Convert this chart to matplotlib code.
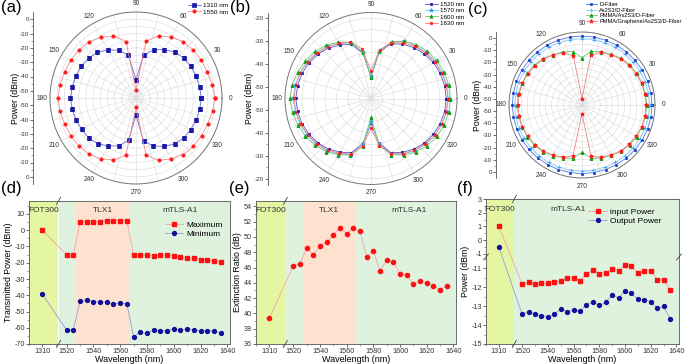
import numpy as np
import matplotlib
matplotlib.use('Agg')
import matplotlib.pyplot as plt
from matplotlib.ticker import FixedLocator, MultipleLocator, NullFormatter

plt.rcParams['font.family'] = ['Liberation Sans', 'DejaVu Sans']
plt.rcParams['axes.unicode_minus'] = False

# ---------------- data ----------------
angles = np.arange(0, 360, 10)

# (a) polar, Power (dBm)
a_1310 = [-9.5, -9.9, -10.4, -11.0, -11.6, -13.0, -16.0, -19.3, -24.6, -42.4,
          -24.8, -19.5, -16.2, -13.2, -11.8, -11.0, -10.4, -9.8, -9.3,
          -9.8, -10.5, -11.2, -11.8, -13.3, -16.3, -19.5, -25.0, -43.0,
          -24.5, -19.4, -16.0, -13.1, -11.6, -11.0, -10.3, -9.8]
a_1550 = [0.0, -1.0, -2.0, -2.3, -3.0, -3.6, -6.0, -8.8, -14.8, -49.5,
          -15.0, -9.0, -6.2, -3.8, -3.0, -2.4, -2.0, -1.2, -0.5,
          -1.1, -2.0, -2.5, -3.0, -3.8, -6.0, -9.0, -14.5, -48.5,
          -14.5, -8.7, -6.0, -3.5, -2.8, -2.2, -1.8, -0.8]

# (b) polar
b_1520 = [-22.2, -22.4, -22.9, -23.6, -24.6, -26.0, -27.6, -29.6, -34.5, -45.5,
          -35.0, -29.8, -28.0, -26.3, -24.8, -23.8, -23.0, -22.5, -22.2,
          -22.5, -23.0, -23.8, -24.8, -26.2, -28.0, -29.8, -35.2, -44.2,
          -35.5, -29.9, -27.9, -26.1, -24.7, -23.7, -22.9, -22.4]
b_1570 = [-21.2, -21.4, -21.9, -22.6, -23.6, -25.0, -26.0, -28.8, -34.2, -45.0,
          -34.6, -29.2, -27.2, -25.4, -23.9, -22.8, -22.0, -21.5, -21.0,
          -21.5, -22.1, -22.9, -23.9, -25.3, -27.0, -29.0, -34.8, -45.2,
          -35.0, -29.2, -27.0, -25.2, -23.8, -22.8, -22.0, -21.5]
b_1600 = [-20.4, -20.6, -21.1, -21.8, -22.9, -24.3, -26.2, -28.6, -34.0, -45.8,
          -34.4, -28.9, -26.6, -24.7, -23.1, -22.0, -21.0, -20.2, -19.6,
          -20.3, -21.1, -22.0, -23.2, -24.8, -26.6, -28.8, -33.8, -47.0,
          -34.2, -28.9, -26.5, -24.5, -23.0, -21.9, -21.0, -20.6]
b_1630 = [-21.5, -21.7, -22.2, -22.9, -23.9, -25.3, -27.0, -29.1, -33.5, -42.9,
          -33.0, -28.8, -27.2, -25.6, -24.2, -23.1, -22.2, -21.7, -21.4,
          -21.8, -22.4, -23.2, -24.3, -25.7, -27.4, -29.3, -33.8, -42.0,
          -34.0, -29.4, -27.3, -25.5, -24.1, -23.0, -22.2, -21.7]

# (c) polar
c_dfiber = [2.6, 2.5, 2.3, 2.2, 2.0, 1.9, 1.8, 1.7, 1.7, 1.7,
            1.7, 1.8, 1.9, 2.0, 2.1, 2.2, 2.3, 2.3, 2.3,
            2.2, 2.1, 2.0, 1.9, 1.7, 1.6, 1.5, 1.4, 1.4,
            1.4, 1.5, 1.6, 1.8, 2.0, 2.2, 2.4, 2.5]
c_as2s3 = [0.6, 0.5, 0.3, 0.1, -0.1, -0.3, -0.4, -0.5, -0.5, -0.5,
           -0.5, -0.4, -0.3, -0.1, 0.0, 0.2, 0.3, 0.4, 0.4,
           0.3, 0.1, 0.0, -0.2, -0.4, -0.5, -0.6, -0.7, -0.7,
           -0.7, -0.6, -0.5, -0.3, -0.1, 0.1, 0.3, 0.5]
c_pmma = [-1.8, -2.0, -2.4, -3.0, -3.8, -5.0, -7.0, -8.3, -10.2, -16.0,
          -10.4, -8.5, -7.2, -5.2, -4.0, -3.0, -2.4, -2.0, -1.8,
          -2.0, -2.4, -3.0, -3.8, -5.0, -7.0, -8.6, -10.5, -16.0,
          -10.5, -8.5, -7.2, -5.2, -4.0, -3.0, -2.4, -2.0]
c_graph = [-2.3, -2.5, -2.9, -3.5, -4.3, -5.5, -7.5, -9.0, -13.5, -50.0,
           -14.0, -9.2, -7.7, -5.7, -4.5, -3.5, -2.9, -2.5, -2.3,
           -2.5, -2.9, -3.5, -4.3, -5.5, -7.5, -9.3, -12.5, -48.0,
           -12.2, -9.2, -7.7, -5.7, -4.5, -3.5, -2.9, -2.5]

# (d)-(f) versus wavelength
wl = [1310] + list(range(1520, 1640, 5))
p_max = [0.0, -15.2, -15.2, 5.0, 5.0, 5.0, 5.3, 5.9, 5.8, 5.9, 5.9,
         -15.2, -15.2, -15.4, -15.7, -15.2, -15.3, -15.6, -16.5, -17.0,
         -17.2, -18.0, -18.0, -19.0, -19.5]
p_min = [-39.4, -61.5, -61.5, -43.7, -42.9, -43.9, -44.2, -44.3, -45.6, -44.7,
         -45.3, -65.7, -62.6, -63.5, -61.2, -62.1, -61.8, -60.7, -61.5, -60.6,
         -61.2, -62.0, -61.8, -62.0, -63.2]
ext_ratio = [39.35, 46.26, 46.5, 48.56, 47.7, 48.8, 49.3, 50.3, 51.2, 50.4,
             51.2, 50.75, 47.4, 48.2, 45.5, 47.0, 46.7, 45.2, 45.0, 43.8,
             44.2, 44.0, 43.6, 43.1, 43.65]
p_in = [1.0, -11.84, -11.72, -11.85, -11.79, -11.8, -11.72, -11.68, -11.51,
        -11.51, -11.67, -11.32, -11.12, -11.29, -11.24, -11.03, -11.15, -10.85,
        -10.91, -11.26, -11.14, -11.14, -11.63, -11.63, -12.16]
p_out = [-0.5, -13.43, -13.29, -13.43, -13.51, -13.6, -13.43, -13.17, -13.29,
         -13.22, -13.26, -12.95, -12.78, -12.97, -12.81, -12.4, -12.6, -12.2,
         -12.33, -12.64, -12.66, -12.78, -13.12, -13.02, -13.67]

# source bands (nm)
fot300 = (1300, 1322)
pre_tlx = (1514, 1527)
tlx1 = (1527, 1567)
mtls = (1567, 1642)

# ---------------- helpers ----------------
W, H = 685, 364
fig = plt.figure(figsize=(W / 100, H / 100), dpi=100)


def rect(x0, y0, x1, y1):
    return [x0 / W, 1 - y1 / H, (x1 - x0) / W, (y1 - y0) / H]


def piecewise(xp, fp):
    xp = np.asarray(xp, float)
    fp = np.asarray(fp, float)

    def make(a, b):
        def f(v):
            v = np.asarray(v, float)
            out = np.interp(v, a, b)
            lo = b[0] + (v - a[0]) * (b[1] - b[0]) / (a[1] - a[0])
            hi = b[-1] + (v - a[-1]) * (b[-1] - b[-2]) / (a[-1] - a[-2])
            return np.where(v < a[0], lo, np.where(v > a[-1], hi, out))
        return f
    return make(xp, fp), make(fp, xp)


xfwd, xinv = piecewise([1300, 1322, 1514, 1642], [0, 22, 22.05, 150])
yfwd, yinv = piecewise([-15, -10.42, -1.22, 3], [0, 87, 87.05, 145])

GRID = '#d9d9d9'
SPINE = '#555555'


def polar_panel(r, rlo, rhi):
    ax = fig.add_axes(r, projection='polar')
    ax.set_ylim(rlo, rhi)
    ax.set_xticks(np.deg2rad(np.arange(0, 360, 30)))
    ax.set_xticklabels([str(d) for d in range(0, 360, 30)])
    ax.xaxis.set_minor_locator(FixedLocator(np.deg2rad(np.arange(15, 360, 30))))
    ax.yaxis.set_major_locator(MultipleLocator(10))
    ax.yaxis.set_minor_locator(MultipleLocator(5))
    ax.yaxis.set_major_formatter(NullFormatter())
    ax.grid(True, which='both', color=GRID, lw=0.4)
    ax.tick_params(axis='x', which='both', labelsize=4.8, pad=-1, length=0, colors='#333333')
    ax.tick_params(axis='y', which='both', length=0)
    ax.spines['polar'].set_color('#777777')
    ax.spines['polar'].set_linewidth(0.7)
    return ax


def radial_scale(pax, x_px, rlo, rhi, ticks, label, label_x):
    b = pax.get_position()
    ax = fig.add_axes([x_px / W, b.y0, 0.0001, b.height])
    span = rhi - rlo
    ax.set_ylim(-span, span)
    pos = [t - rlo for t in ticks] + [-(t - rlo) for t in ticks]
    ax.set_yticks(pos)
    ax.set_yticklabels(['%g' % t for t in ticks] * 2)
    minor = np.arange(rlo + 5, rhi, 5)
    minor = [m for m in minor if m not in ticks]
    ax.yaxis.set_minor_locator(FixedLocator([m - rlo for m in minor] + [-(m - rlo) for m in minor]))
    ax.set_xticks([])
    for s in ['top', 'right', 'bottom']:
        ax.spines[s].set_visible(False)
    ax.spines['left'].set_color(SPINE)
    ax.spines['left'].set_linewidth(0.6)
    ax.tick_params(axis='y', which='major', labelsize=4.5, length=2, width=0.5, pad=1, colors='#333333')
    ax.tick_params(axis='y', which='minor', length=1.2, width=0.4, colors=SPINE)
    ax.patch.set_alpha(0)
    fig.text(label_x / W, b.y0 + b.height / 2, label, rotation=90, ha='center', va='center', fontsize=6.3)


def closed(vals):
    th = np.deg2rad(np.append(angles, angles[0]))
    return th, np.append(vals, vals[0])


def polar_series(ax, vals, line_c, mark_c, marker, ms, label):
    th, r = closed(vals)
    return ax.plot(th, r, color=line_c, lw=0.6, marker=marker, ms=ms, mfc=mark_c, mec=mark_c,
                   mew=0.5, label=label, zorder=3)[0]


leg_kw = dict(loc='upper left', frameon=False, labelspacing=0.12, handletextpad=0.4,
              borderpad=0, borderaxespad=0)

# ---------------- (a) ----------------
axa = polar_panel(rect(50, 12, 222, 184), -55, 5)
ha = [polar_series(axa, a_1310, '#6a6ad6', '#1a1aa8', 's', 2.2, '1310 nm'),
      polar_series(axa, a_1550, '#f28a8a', '#ff1a1a', 'o', 2.4, '1550 nm')]
radial_scale(axa, 33, -55, 5, [0, -10, -20, -30, -40, -50], 'Power (dBm)', 15)
fig.legend(handles=ha, bbox_to_anchor=(188 / W, 1 - 3 / H), fontsize=4.6, handlelength=2.0, **leg_kw)

# ---------------- (b) ----------------
axb = polar_panel(rect(285, 12.5, 457, 184.5), -55, -17.5)
hb = [polar_series(axb, b_1520, '#5555c8', '#1a1aa0', 's', 2.0, '1520 nm'),
      polar_series(axb, b_1570, '#7cc4f8', '#2f9ef0', '*', 3.0, '1570 nm'),
      polar_series(axb, b_1600, '#6cc86c', '#18a018', '^', 2.4, '1600 nm'),
      polar_series(axb, b_1630, '#f08080', '#ff1a1a', 'o', 1.8, '1630 nm')]
radial_scale(axb, 268, -55, -17.5, [-20, -30, -40, -50], 'Power (dBm)', 250)
fig.legend(handles=hb, bbox_to_anchor=(425 / W, 1 - 2 / H), fontsize=4.5, handlelength=2.0, **leg_kw)

# ---------------- (c) ----------------
axc = polar_panel(rect(509, 32, 655, 178), -55, 5)
hc = [polar_series(axc, c_dfiber, '#4a78ee', '#1f3fc4', 's', 2.0, 'D-Fiber'),
      polar_series(axc, c_as2s3, '#8fd0ff', '#3aa8ff', '+', 2.5, 'As2S3/D-Fiber'),
      polar_series(axc, c_pmma, '#6cc86c', '#18a018', '^', 2.4, 'PMMA/As2S3/D-Fiber'),
      polar_series(axc, c_graph, '#f08080', '#ff1a1a', '*', 3.0, 'PMMA/Graphene/As2S3/D-Fiber')]
radial_scale(axc, 496, -55, 5, [0, -10, -20, -30, -40, -50], 'Power (dBm)', 478)
fig.legend(handles=hc, bbox_to_anchor=(586 / W, 1 - 2 / H), fontsize=4.1, handlelength=1.9, **leg_kw)


# ---------------- bottom row ----------------
def wl_axes(r, bands):
    ax = fig.add_axes(r)
    ax.set_xscale('function', functions=(xfwd, xinv))
    ax.set_xlim(1300, 1642)
    ax.xaxis.set_major_locator(FixedLocator([1310, 1520, 1540, 1560, 1580, 1600, 1620, 1640]))
    ax.xaxis.set_minor_locator(FixedLocator([1300, 1320, 1530, 1550, 1570, 1590, 1610, 1630]))
    ax.xaxis.set_major_formatter(plt.FormatStrFormatter('%d'))
    ax.xaxis.set_minor_formatter(NullFormatter())
    for (lo, hi), col in bands:
        ax.axvspan(lo, hi, color=col, lw=0, zorder=0)
    for s in ax.spines.values():
        s.set_color(SPINE)
        s.set_linewidth(0.6)
    ax.tick_params(which='major', labelsize=5.2, length=2, width=0.5, pad=1, colors='#333333')
    ax.tick_params(which='minor', length=1.2, width=0.4, colors=SPINE)
    ax.set_xlabel('Wavelength (nm)', fontsize=6.5, labelpad=0)
    # break marks on the x axis
    bx = (xfwd(1418.0) - xfwd(1300.0)) / (xfwd(1642.0) - xfwd(1300.0))
    for yy in (0, 1):
        ax.plot([bx - 0.01, bx + 0.01], [yy - 0.025, yy + 0.025], transform=ax.transAxes,
                color='#444444', lw=0.6, clip_on=False, zorder=5)
    return ax


YELLOW = '#e4f6a2'
GREEN = '#def2de'
SALMON = '#fde2d0'
RED_L = '#f4a4a4'
BLUE_L = '#9a9ad8'
RED = '#ff1010'
BLUE = '#10109a'
std_bands = [(fot300, YELLOW), (pre_tlx, GREEN), (tlx1, SALMON), (mtls, GREEN)]


def band_labels(ax, mtls_x, with_tlx, y=0.955):
    tr = ax.get_xaxis_transform()
    kw = dict(transform=tr, ha='center', va='top', fontsize=6, color='#333333')
    ax.text(1311, y, 'FOT300', **kw)
    if with_tlx:
        ax.text(1547, y, 'TLX1', **kw)
    ax.text(mtls_x, y, 'mTLS-A1', **kw)


# (d)
axd = wl_axes(rect(29, 201, 230, 344), std_bands)
axd.plot(wl, p_max, color=RED_L, lw=0.6, marker='s', ms=2.8, mfc=RED, mec=RED, label='Maximum')
axd.plot(wl, p_min, color=BLUE_L, lw=0.6, marker='o', ms=2.8, mfc=BLUE, mec=BLUE, label='Minimum')
axd.set_ylim(-70, 18)
axd.yaxis.set_major_locator(MultipleLocator(10))
axd.yaxis.set_minor_locator(MultipleLocator(5))
axd.set_ylabel('Transmitted Power (dBm)', fontsize=6.3, labelpad=1)
band_labels(axd, 1605, True)
axd.legend(loc='upper right', bbox_to_anchor=(0.995, 0.9), fontsize=6, frameon=False,
           handlelength=2.2, labelspacing=0.15, handletextpad=0.4, borderpad=0.2)

# (e)
axe = wl_axes(rect(256, 201, 456, 344), std_bands)
axe.plot(wl, ext_ratio, color=RED_L, lw=0.6, marker='o', ms=3.0, mfc=RED, mec=RED)
axe.set_ylim(36, 54.7)
axe.yaxis.set_major_locator(MultipleLocator(2))
axe.yaxis.set_minor_locator(MultipleLocator(1))
axe.set_ylabel('Extinction Ratio (dB)', fontsize=6.3, labelpad=1)
band_labels(axe, 1607, True)

# (f)
axf = wl_axes(rect(486, 199, 679, 344), [(fot300, YELLOW), ((1514, 1642), GREEN)])
axf.set_yscale('function', functions=(yfwd, yinv))
axf.set_ylim(-15, 3)
axf.yaxis.set_major_locator(FixedLocator([-15, -14, -13, -12, -11, -1, 0, 1, 2, 3]))
axf.yaxis.set_minor_locator(FixedLocator([-14.5, -13.5, -12.5, -11.5, -10.5, -0.5, 0.5, 1.5, 2.5]))
axf.yaxis.set_major_formatter(plt.FormatStrFormatter('%d'))
axf.yaxis.set_minor_formatter(NullFormatter())
axf.plot(wl, p_in, color=RED_L, lw=0.6, marker='s', ms=2.8, mfc=RED, mec=RED, label='input Power')
axf.plot(wl, p_out, color=BLUE_L, lw=0.6, marker='o', ms=2.8, mfc=BLUE, mec=BLUE, label='Output Power')
axf.set_ylabel('Power (dBm)', fontsize=6.3, labelpad=1)
band_labels(axf, 1556, False)
by = (yfwd(-5.0) - yfwd(-15.0)) / (yfwd(3.0) - yfwd(-15.0))
for xx in (0, 1):
    axf.plot([xx - 0.012, xx + 0.012], [by - 0.02, by + 0.02], transform=axf.transAxes,
             color='#444444', lw=0.6, clip_on=False, zorder=5)
axf.legend(loc='upper right', bbox_to_anchor=(0.94, 0.975), fontsize=6, frameon=False,
           handlelength=2.2, labelspacing=0.15, handletextpad=0.4, borderpad=0.2)

# panel letters
for lab, x, y in [('(a)', 1, 0), ('(b)', 230, 0), ('(c)', 468, 2),
                  ('(d)', 1, 181), ('(e)', 229, 181), ('(f)', 457, 181)]:
    fig.text(x / W, 1 - y / H, lab, fontsize=12, ha='left', va='top')

fig.savefig('out.png', dpi=100)
plt.close(fig)
